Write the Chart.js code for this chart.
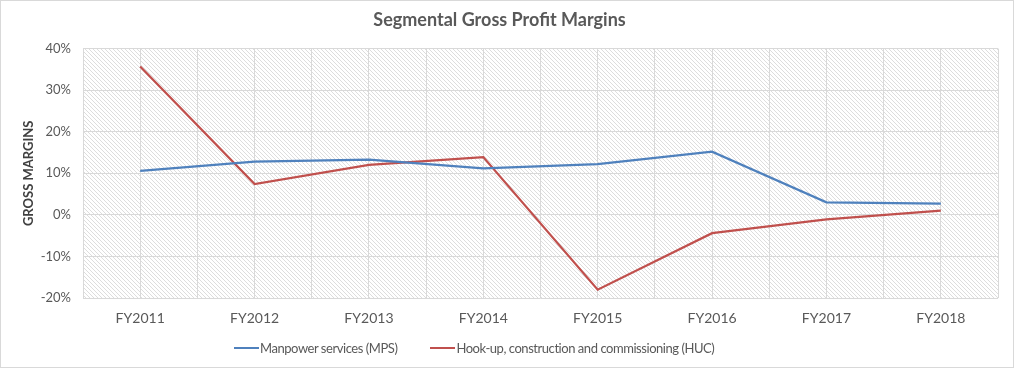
<!DOCTYPE html>
<html>
<head>
<meta charset="utf-8">
<script src="https://cdn.jsdelivr.net/npm/chart.js@4"></script>
<style>
  html, body { margin: 0; padding: 0; background: #fff; }
  .frame { position: relative; width: 1012px; height: 366px; border: 1px solid #d9d9d9; }
  .legend { position: absolute; left: 233px; top: 338px; display: flex; font: 13px Lato, "Open Sans", sans-serif; letter-spacing: -0.45px; color: #595959; line-height: 18px; }
  .legend span { display: flex; align-items: center; margin-right: 33px; }
  .legend i { display: inline-block; width: 25px; height: 2px; margin-right: 1px; }
</style>
</head>
<body>
<div class="frame">
  <canvas id="chart" width="1012" height="366"></canvas>
  <div class="legend" id="legend"></div>
</div>
<script>
// Segmental gross profit margins, in percent
const years = ['FY2011', 'FY2012', 'FY2013', 'FY2014', 'FY2015', 'FY2016', 'FY2017', 'FY2018'];
const mps = [10.6, 12.8, 13.3, 11.2, 12.2, 15.2, 3.0, 2.7];
const huc = [35.7, 7.4, 12.0, 13.9, -18.0, -4.4, -1.1, 1.0];

const grey = '#595959';
const font = 'Lato, "Open Sans", sans-serif';

// light diagonal hatching behind the plot area
function hatch() {
  const c = document.createElement('canvas');
  c.width = 4; c.height = 4;
  const g = c.getContext('2d');
  g.fillStyle = '#fff';
  g.fillRect(0, 0, 4, 4);
  g.strokeStyle = '#dddddd';
  g.lineWidth = 1;
  g.beginPath();
  g.moveTo(-1, -1); g.lineTo(5, 5);
  g.moveTo(-1, 3); g.lineTo(1, 5);
  g.moveTo(3, -1); g.lineTo(5, 1);
  g.stroke();
  return g.createPattern(c, 'repeat');
}

const plotBg = {
  id: 'plotBg',
  beforeDraw(chart) {
    const { ctx, chartArea: a } = chart;
    ctx.save();
    ctx.fillStyle = hatch();
    ctx.fillRect(a.left, a.top, a.right - a.left, a.bottom - a.top);
    ctx.restore();
  }
};

const toPoints = arr => arr.map((v, i) => ({ x: i, y: v }));

const chart = new Chart(document.getElementById('chart'), {
  type: 'line',
  data: {
    datasets: [
      { label: 'Manpower services (MPS)', data: toPoints(mps), borderColor: '#4f81bd', backgroundColor: '#4f81bd', borderWidth: 2.25, pointRadius: 0, tension: 0 },
      { label: 'Hook-up, construction and commissioning (HUC)', data: toPoints(huc), borderColor: '#c0504d', backgroundColor: '#c0504d', borderWidth: 2.25, pointRadius: 0, tension: 0 }
    ]
  },
  options: {
    responsive: false,
    animation: false,
    layout: { padding: { left: 0, right: 15, top: 0, bottom: 0 } },
    plugins: {
      title: {
        display: true,
        text: 'Segmental Gross Profit Margins',
        color: grey,
        font: { family: font, size: 18, weight: 'bold' },
        padding: { top: 8, bottom: 18 }
      },
      legend: { display: false },
      tooltip: { enabled: false }
    },
    scales: {
      x: {
        type: 'linear',
        min: -0.5,
        max: 7.5,
        afterFit: s => { s.height = 69; },
        grid: { color: '#d9d9d9', drawTicks: false },
        border: { display: false },
        ticks: {
          stepSize: 0.5,
          autoSkip: false,
          maxRotation: 0,
          padding: 12,
          color: grey,
          font: { family: font, size: 14 },
          callback: v => Number.isInteger(v) ? years[v] : ''
        }
      },
      y: {
        min: -20,
        max: 40,
        afterFit: s => { s.width = 82; },
        grid: { color: '#d9d9d9', drawTicks: false },
        border: { display: false },
        ticks: {
          stepSize: 10,
          padding: 12,
          color: grey,
          font: { family: font, size: 13 },
          callback: v => v + '%'
        },
        title: {
          display: true,
          text: 'GROSS MARGINS',
          color: '#404040',
          font: { family: font, size: 13, weight: 'bold' },
          padding: { top: 20, bottom: 0 }
        }
      }
    }
  },
  plugins: [plotBg]
});

// legend built from the dataset labels and colours
document.getElementById('legend').innerHTML = chart.data.datasets
  .map(d => `<span><i style="background:${d.borderColor}"></i>${d.label}</span>`)
  .join('');
</script>
</body>
</html>
